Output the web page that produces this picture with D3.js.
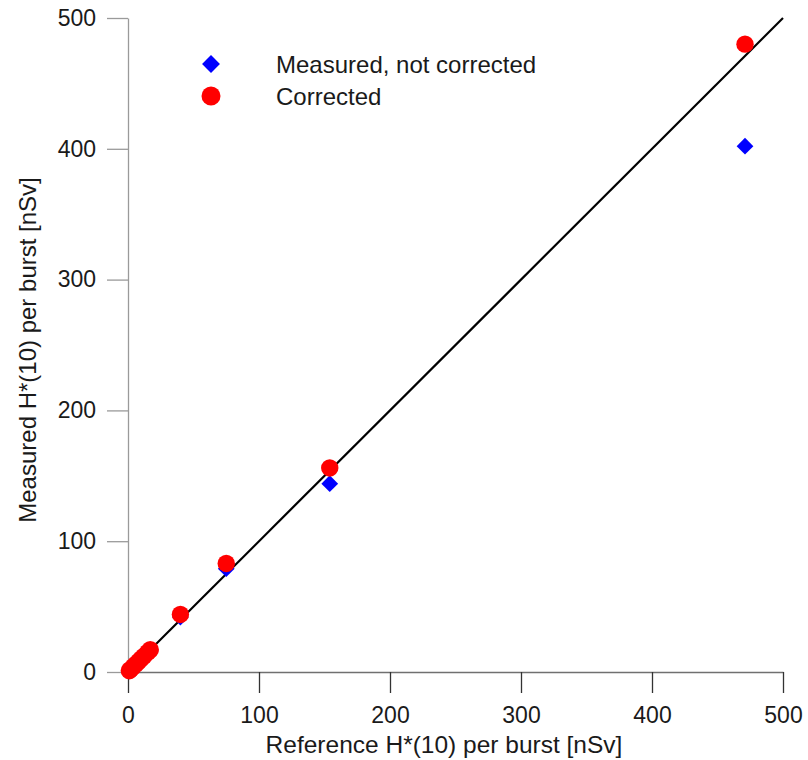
<!DOCTYPE html>
<html><head><meta charset="utf-8">
<script src="https://cdn.jsdelivr.net/npm/d3@7"></script>
<style>body{margin:0;background:#fff}svg{display:block}text{font-family:"Liberation Sans",Arial,sans-serif}</style>
</head><body><svg id="c" width="808" height="760"></svg>
<script>
const refX   = [1, 2, 4, 6, 8, 10, 12, 15, 17, 40, 75, 154, 471];
const measured = [1, 2, 4, 6, 8, 9.5, 11.5, 14, 16, 42, 79, 144, 402];
const corrected = [1, 2, 4, 6, 8, 10, 12, 15, 17, 44, 83, 156, 480];
const xTicks = [0, 100, 200, 300, 400, 500];
const yTicks = [0, 100, 200, 300, 400, 500];
const seriesNames = ["Measured, not corrected", "Corrected"];
const seriesColors = ["#0000ff", "#ff0000"];

const svg = d3.select("#c");
const x = d3.scaleLinear().domain([0, 500]).range([128, 783]);
const y = d3.scaleLinear().domain([0, 500]).range([672, 18]);

// y axis
const gy = svg.append("g").attr("transform", "translate(128,0)")
  .call(d3.axisLeft(y).tickValues(yTicks).tickSize(21).tickPadding(11).tickSizeOuter(0));
gy.select(".domain").attr("stroke", "#9a9a9a").attr("stroke-width", 1.3);
gy.selectAll(".tick line").attr("stroke", "#9a9a9a").attr("stroke-width", 1.3);
gy.selectAll(".tick text").attr("font-size", 23).attr("fill", "#1a1a1a")
  .attr("font-family", "'Liberation Sans',Arial,sans-serif");

// x axis
const gx = svg.append("g").attr("transform", "translate(0,672)")
  .call(d3.axisBottom(x).tickValues(xTicks).tickSize(21).tickPadding(14).tickSizeOuter(0));
gx.select(".domain").attr("stroke", "#707070").attr("stroke-width", 1.5);
gx.selectAll(".tick line").attr("stroke", "#333").attr("stroke-width", 1.3);
gx.selectAll(".tick text").attr("font-size", 23).attr("fill", "#1a1a1a")
  .attr("font-family", "'Liberation Sans',Arial,sans-serif");

// titles
svg.append("text").attr("x", 444).attr("y", 753).attr("text-anchor", "middle")
  .attr("font-size", 24.5).attr("fill", "#1a1a1a").text("Reference H*(10) per burst [nSv]");
svg.append("text").attr("transform", "translate(36,350) rotate(-90)").attr("text-anchor", "middle")
  .attr("font-size", 24).attr("fill", "#1a1a1a").text("Measured H*(10) per burst [nSv]");

// 1:1 line
svg.append("line").attr("x1", x(0)).attr("y1", y(0)).attr("x2", x(500)).attr("y2", y(500))
  .attr("stroke", "#000").attr("stroke-width", 2.2);

const diamond = d3.symbol().type(d3.symbolSquare).size(140);
const legendDiamond = d3.symbol().type(d3.symbolSquare).size(160);
// measured (blue diamonds)
svg.append("g").selectAll("path").data(refX.map((v, i) => [v, measured[i]])).join("path")
  .attr("d", diamond)
  .attr("transform", d => `translate(${x(d[0])},${y(d[1])}) rotate(45)`)
  .attr("fill", seriesColors[0]);

// corrected (red circles)
svg.append("g").selectAll("circle").data(refX.map((v, i) => [v, corrected[i]])).join("circle")
  .attr("cx", d => x(d[0])).attr("cy", d => y(d[1])).attr("r", 8.7)
  .attr("fill", seriesColors[1]);

// legend
const lg = svg.append("g");
lg.append("path").attr("d", legendDiamond).attr("transform", "translate(211,64) rotate(45)").attr("fill", seriesColors[0]);
lg.append("circle").attr("cx", 211).attr("cy", 96).attr("r", 9.5).attr("fill", seriesColors[1]);
seriesNames.forEach((n, i) => {
  lg.append("text").attr("x", 276).attr("y", 64 + i * 32).attr("dy", "0.36em")
    .attr("font-size", 24).attr("fill", "#1a1a1a").text(n);
});
</script></body></html>
